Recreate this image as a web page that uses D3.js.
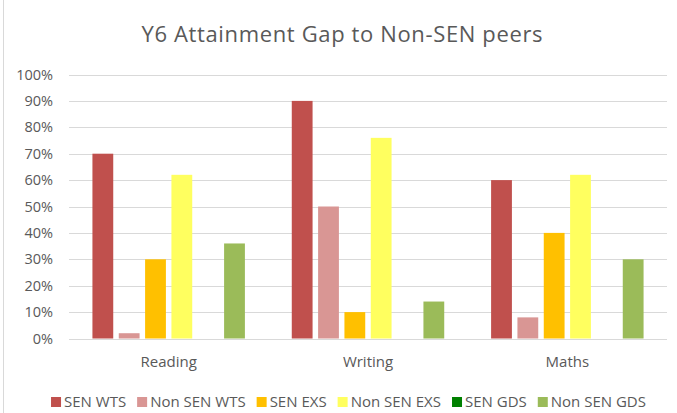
<!DOCTYPE html>
<html>
<head>
<meta charset="utf-8">
<script src="https://cdn.jsdelivr.net/npm/d3@7"></script>
<style>
  body { margin: 0; background: #fff; }
  text { font-family: "Open Sans", "Liberation Sans", sans-serif; fill: #595959; }
</style>
</head>
<body>
<svg width="677" height="413"></svg>
<script>
var categories = ["Reading", "Writing", "Maths"];
var seriesNames = ["SEN WTS", "Non SEN WTS", "SEN EXS", "Non SEN EXS", "SEN GDS", "Non SEN GDS"];
var seriesColors = ["#C0504D", "#D99694", "#FFC000", "#FFFF5F", "#008000", "#9BBB59"];
var senWts = [70, 90, 60];
var nonSenWts = [2, 50, 8];
var senExs = [30, 10, 40];
var nonSenExs = [62, 76, 62];
var senGds = [0, 0, 0];
var nonSenGds = [36, 14, 30];
var yTicks = [0, 10, 20, 30, 40, 50, 60, 70, 80, 90, 100];

var series = [senWts, nonSenWts, senExs, nonSenExs, senGds, nonSenGds];

var svg = d3.select("svg"),
    width = +svg.attr("width"),
    height = +svg.attr("height");

var plotLeft = 69, plotRight = 667;

// chart border (left edge visible in the picture)
svg.append("line")
    .attr("x1", 3.5).attr("x2", 3.5)
    .attr("y1", 0).attr("y2", height)
    .attr("stroke", "#D9D9D9");

svg.append("text")
    .attr("x", 342)
    .attr("y", 42)
    .attr("text-anchor", "middle")
    .style("font-size", "22px")
    .attr("textLength", 401)
    .text("Y6 Attainment Gap to Non-SEN peers");

var x0 = d3.scaleBand()
    .domain(categories)
    .range([plotLeft, plotRight]);

var x1 = d3.scaleBand()
    .domain(d3.range(series.length))
    .range([0, x0.bandwidth()])
    .paddingOuter(0.89)
    .paddingInner(0.21);

var y = d3.scaleLinear()
    .domain([0, 100])
    .range([338.5, 74.5]);

// gridlines
svg.append("g")
    .selectAll("line")
    .data(yTicks)
    .enter().append("line")
    .attr("x1", plotLeft)
    .attr("x2", plotRight)
    .attr("y1", function(d) { return Math.round(y(d)) + 0.5; })
    .attr("y2", function(d) { return Math.round(y(d)) + 0.5; })
    .attr("stroke", "#D9D9D9")
    .attr("stroke-width", 1);

// y labels
svg.append("g")
    .selectAll("text")
    .data(yTicks)
    .enter().append("text")
    .attr("x", 53)
    .attr("y", function(d) { return y(d); })
    .attr("dy", "0.35em")
    .attr("text-anchor", "end")
    .style("font-size", "14.5px")
    .text(function(d) { return d + "%"; });

// bars
var groups = svg.append("g")
    .selectAll("g")
    .data(categories)
    .enter().append("g")
    .attr("transform", function(d) { return "translate(" + x0(d) + ",0)"; });

groups.selectAll("rect")
    .data(function(d, ci) {
        return series.map(function(s, si) { return {si: si, v: s[ci]}; });
    })
    .enter().append("rect")
    .filter(function(d) { return d.v > 0; })
    .attr("x", function(d) { return x1(d.si); })
    .attr("width", x1.bandwidth())
    .attr("y", function(d) { return y(d.v); })
    .attr("height", function(d) { return y(0) - y(d.v); })
    .attr("fill", function(d) { return seriesColors[d.si]; });

// category labels
svg.append("g")
    .selectAll("text")
    .data(categories)
    .enter().append("text")
    .attr("x", function(d) { return x0(d) + x0.bandwidth() / 2; })
    .attr("y", 362)
    .attr("dy", "0.35em")
    .attr("text-anchor", "middle")
    .style("font-size", "15px")
    .text(function(d) { return d; });

// legend
var legend = svg.append("g");
var lx = 0;
seriesNames.forEach(function(name, i) {
    var item = legend.append("g").attr("transform", "translate(" + lx + ",0)");
    item.append("rect")
        .attr("x", 0).attr("y", -5)
        .attr("width", 10).attr("height", 10)
        .attr("fill", seriesColors[i]);
    var t = item.append("text")
        .attr("x", 13)
        .attr("y", 0)
        .attr("dy", "0.35em")
        .style("font-size", "15px")
        .text(name);
    lx += 13 + t.node().getComputedTextLength() + 11;
});
var legendWidth = lx - 11;
legend.attr("transform", "translate(" + (348.5 - legendWidth / 2) + ",402)");
</script>
</body>
</html>
